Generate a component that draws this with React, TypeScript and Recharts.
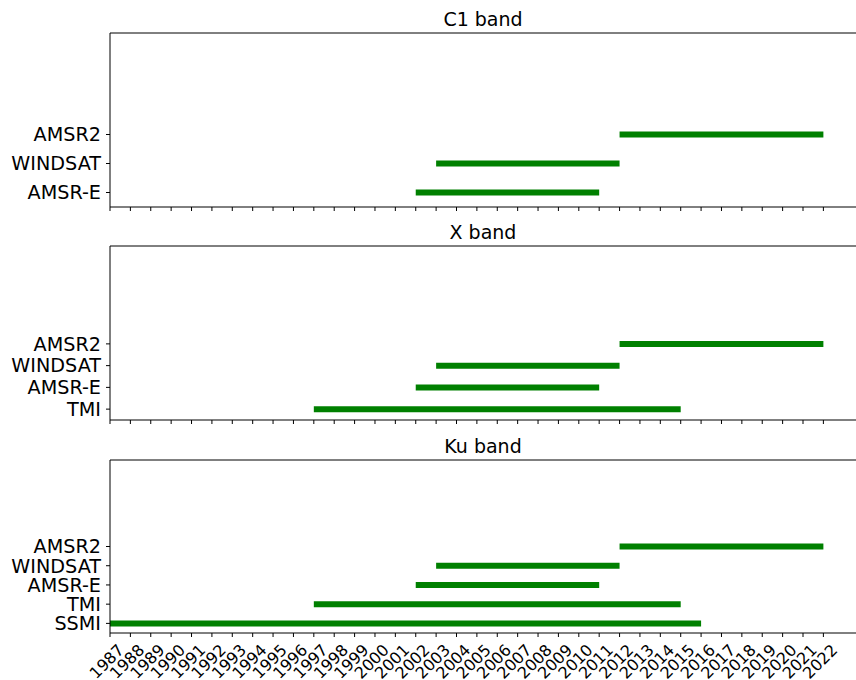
import { Line, LineChart, ReferenceLine, XAxis, YAxis } from 'recharts';

const yearTicks = [
  1987, 1988, 1989, 1990, 1991, 1992, 1993, 1994, 1995, 1996, 1997, 1998,
  1999, 2000, 2001, 2002, 2003, 2004, 2005, 2006, 2007, 2008, 2009, 2010,
  2011, 2012, 2013, 2014, 2015, 2016, 2017, 2018, 2019, 2020, 2021, 2022
];

const missions = ['SSMI', 'TMI', 'AMSR-E', 'WINDSAT', 'AMSR2'];
const missionStart = [1987, 1997, 2002, 2003, 2012];
const missionEnd = [2016, 2015, 2011, 2012, 2022];

const c1Missions = ['AMSR-E', 'WINDSAT', 'AMSR2'];
const xMissions = ['TMI', 'AMSR-E', 'WINDSAT', 'AMSR2'];
const kuMissions = ['SSMI', 'TMI', 'AMSR-E', 'WINDSAT', 'AMSR2'];

const FONT = '"DejaVu Sans", sans-serif';
const GREEN = '#008000';

interface PanelProps {
  title: string;
  names: string[];
  yMax: number;
  top: number;
  height: number;
  axisHeight: number;
  showLabels: boolean;
}

function YearTick({ x, y, payload }: any) {
  const ax = x + 15;
  const ay = y + 14;
  return (
    <text
      x={ax}
      y={ay}
      textAnchor="end"
      fontSize={16}
      fontFamily={FONT}
      fill="#000"
      transform={`rotate(-45 ${ax} ${ay})`}
    >
      {payload.value}
    </text>
  );
}

function Panel({ title, names, yMax, top, height, axisHeight, showLabels }: PanelProps) {
  const yTicks = names.map((_, i) => i);
  return (
    <div style={{ position: 'absolute', left: 0, top, width: 856, height }}>
      <div
        style={{
          position: 'absolute',
          left: 110,
          width: 746,
          top: 10,
          textAlign: 'center',
          fontFamily: FONT,
          fontSize: 19,
          lineHeight: '19px',
          color: '#000'
        }}
      >
        {title}
      </div>
      <LineChart width={856} height={height} margin={{ top: 33, right: 0, bottom: 0, left: 0 }}>
        <XAxis
          dataKey="x"
          type="number"
          domain={[1987, 2023.6]}
          ticks={yearTicks}
          interval={0}
          allowDataOverflow
          height={axisHeight}
          tickSize={4}
          tickMargin={0}
          axisLine={{ stroke: '#000' }}
          tickLine={{ stroke: '#000' }}
          tick={showLabels ? <YearTick /> : () => <g />}
        />
        <YAxis
          type="number"
          domain={[-0.5, yMax]}
          ticks={yTicks}
          interval={0}
          allowDataOverflow
          width={110}
          tickSize={4}
          tickMargin={5}
          tickFormatter={(v: number) => names[v]}
          axisLine={{ stroke: '#000' }}
          tickLine={{ stroke: '#000' }}
          tick={{ fontSize: 19.2, fontFamily: FONT, fill: '#000' }}
        />
        <ReferenceLine y={yMax} stroke="#000" strokeWidth={1} ifOverflow="visible" />
        {names.map((name, i) => {
          const m = missions.indexOf(name);
          return (
            <Line
              key={name}
              data={[
                { x: missionStart[m], y: i },
                { x: missionEnd[m], y: i }
              ]}
              dataKey="y"
              stroke={GREEN}
              strokeWidth={6}
              dot={false}
              activeDot={false}
              isAnimationActive={false}
            />
          );
        })}
      </LineChart>
    </div>
  );
}

export default function App() {
  return (
    <div style={{ position: 'absolute', left: 0, top: 0, width: 856, height: 680, background: '#fff' }}>
      <Panel title="C1 band" names={c1Missions} yMax={5.5} top={0} height={220} axisHeight={13} showLabels={false} />
      <Panel title="X band" names={xMissions} yMax={7.5} top={213} height={220} axisHeight={13} showLabels={false} />
      <Panel title="Ku band" names={kuMissions} yMax={8.5} top={427} height={253} axisHeight={47} showLabels />
    </div>
  );
}
